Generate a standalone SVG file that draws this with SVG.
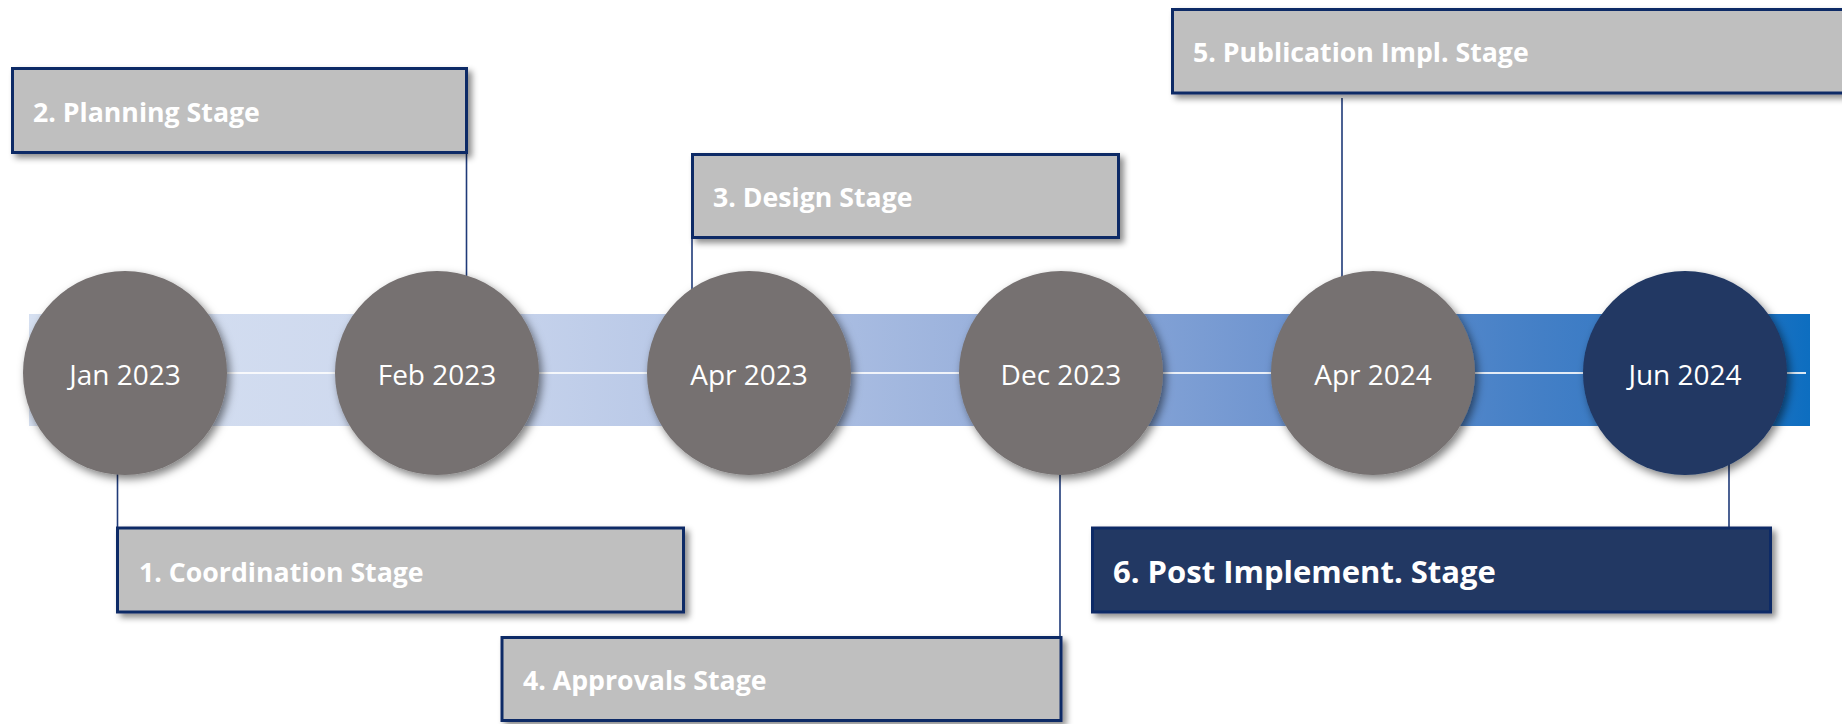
<svg xmlns="http://www.w3.org/2000/svg" width="1842" height="724" viewBox="0 0 1842 724">
  <defs>
    <linearGradient id="bandGrad" x1="29" y1="0" x2="1810" y2="0" gradientUnits="userSpaceOnUse">
      <stop offset="0" stop-color="#d6e0f1"/>
      <stop offset="0.22" stop-color="#cdd8ee"/>
      <stop offset="0.4" stop-color="#b3c4e5"/>
      <stop offset="0.55" stop-color="#97afdb"/>
      <stop offset="0.7" stop-color="#6f95d0"/>
      <stop offset="0.85" stop-color="#437fc6"/>
      <stop offset="0.95" stop-color="#2a74c3"/>
      <stop offset="1" stop-color="#0d6ec0"/>
    </linearGradient>
    <filter id="boxShadow" x="-5%" y="-20%" width="115%" height="150%">
      <feDropShadow dx="4" dy="4" stdDeviation="3" flood-color="#000" flood-opacity="0.45"/>
    </filter>
    <filter id="circleShadow" x="-20%" y="-20%" width="145%" height="145%">
      <feDropShadow dx="3" dy="4" stdDeviation="4" flood-color="#000" flood-opacity="0.5"/>
    </filter>
  </defs>
  <style>
    .band { fill: url(#bandGrad); }
    .axis { stroke: #ffffff; stroke-width: 2; opacity: 0.85; }
    .link { stroke: #1f3a78; stroke-width: 1.6; fill: none; }
    .box { fill: #bfbfbf; stroke: #0e2a66; stroke-width: 3; filter: url(#boxShadow); }
    .box.dark { fill: #203864; }
    .label { font-family: "Open Sans", "Liberation Sans", sans-serif; font-weight: 700; font-size: 26.7px; fill: #ffffff; }
    .label.big { font-size: 31px; }
    .dot { fill: #767171; filter: url(#circleShadow); }
    .dot.dark { fill: #203864; }
    .date { font-family: "Open Sans", "Liberation Sans", sans-serif; font-size: 28px; fill: #ffffff; text-anchor: middle; }
  </style>

  <rect width="1842" height="724" fill="#ffffff"/>

  <!-- timeline band -->
  <g id="timeline">
    <rect class="band" x="29" y="314" width="1781" height="112"/>
    <line class="axis" x1="29" y1="373" x2="1806" y2="373"/>
  </g>

  <!-- leader lines from dates to stage labels -->
  <g id="connectors">
    <line class="link" x1="117.5" y1="470" x2="117.5" y2="528"/>
    <line class="link" x1="466.5" y1="153" x2="466.5" y2="280"/>
    <line class="link" x1="692" y1="177" x2="692" y2="292"/>
    <line class="link" x1="1060" y1="470" x2="1060" y2="720"/>
    <line class="link" x1="1342" y1="98" x2="1342" y2="280"/>
    <line class="link" x1="1729" y1="460" x2="1729" y2="528"/>
  </g>

  <!-- stage labels -->
  <g id="stage-2">
    <rect class="box" x="12.5" y="68.5" width="454" height="84"/>
    <text class="label" x="33" y="121.5">2. Planning Stage</text>
  </g>
  <g id="stage-3">
    <rect class="box" x="692.5" y="154.5" width="426" height="83"/>
    <text class="label" x="713" y="207">3. Design Stage</text>
  </g>
  <g id="stage-5">
    <rect class="box" x="1172.5" y="9.5" width="690" height="83.5"/>
    <text class="label" x="1193" y="62">5. Publication Impl. Stage</text>
  </g>
  <g id="stage-1">
    <rect class="box" x="117.5" y="528" width="566" height="84"/>
    <text class="label" x="139" y="581.5">1. Coordination Stage</text>
  </g>
  <g id="stage-4">
    <rect class="box" x="502" y="637.5" width="559" height="83"/>
    <text class="label" x="523" y="690">4. Approvals Stage</text>
  </g>
  <g id="stage-6">
    <rect class="box dark" x="1092.5" y="528" width="678" height="84"/>
    <text class="label big" x="1113" y="583">6. Post Implement. Stage</text>
  </g>

  <!-- milestone dates -->
  <g id="date-jan-2023">
    <circle class="dot" cx="125" cy="373" r="102"/>
    <text class="date" x="125" y="385">Jan 2023</text>
  </g>
  <g id="date-feb-2023">
    <circle class="dot" cx="437" cy="373" r="102"/>
    <text class="date" x="437" y="385">Feb 2023</text>
  </g>
  <g id="date-apr-2023">
    <circle class="dot" cx="749" cy="373" r="102"/>
    <text class="date" x="749" y="385">Apr 2023</text>
  </g>
  <g id="date-dec-2023">
    <circle class="dot" cx="1061" cy="373" r="102"/>
    <text class="date" x="1061" y="385">Dec 2023</text>
  </g>
  <g id="date-apr-2024">
    <circle class="dot" cx="1373" cy="373" r="102"/>
    <text class="date" x="1373" y="385">Apr 2024</text>
  </g>
  <g id="date-jun-2024">
    <circle class="dot dark" cx="1685" cy="373" r="102"/>
    <text class="date" x="1685" y="385">Jun 2024</text>
  </g>
</svg>
